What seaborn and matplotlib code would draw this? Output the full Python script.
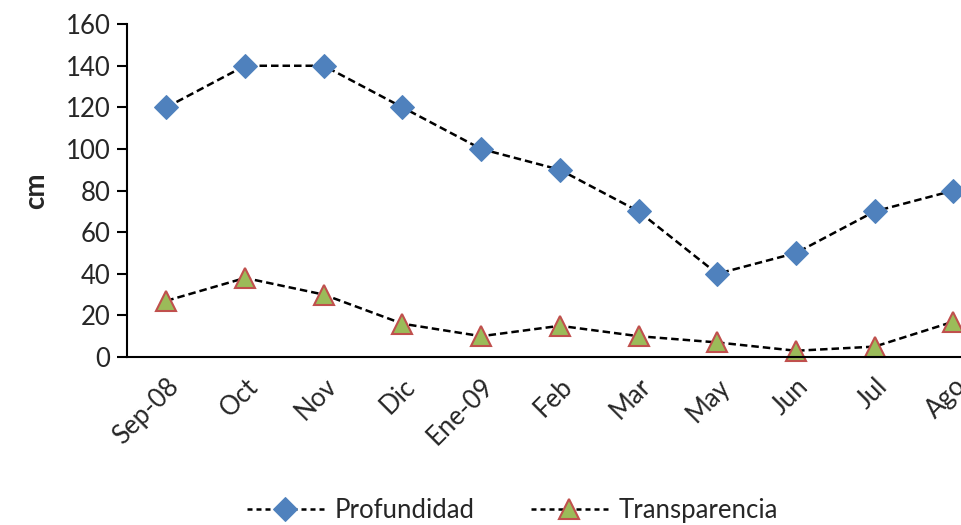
import matplotlib
matplotlib.use("Agg")
import matplotlib.pyplot as plt
import seaborn as sns
import numpy as np
import pandas as pd

months = ["Sep-08", "Oct", "Nov", "Dic", "Ene-09", "Feb", "Mar", "May", "Jun", "Jul", "Ago"]
profundidad = [120, 140, 140, 120, 100, 90, 70, 40, 50, 70, 80]
transparencia = [27, 38, 30, 16, 10, 15, 10, 7, 3, 5, 17]
y_ticks = [0, 20, 40, 60, 80, 100, 120, 140, 160]

sns.set_style("white")
plt.rcParams["font.family"] = ["Lato", "DejaVu Sans"]

fig = plt.figure(figsize=(9.62, 5.25), dpi=100)
ax = fig.add_axes([0.132, 0.32, 0.9, 0.634])

pos = np.arange(len(months))
df = pd.DataFrame({"pos": pos, "Profundidad": profundidad, "Transparencia": transparencia})

dash = (3.0, 1.6)
sns.lineplot(data=df, x="pos", y="Profundidad", ax=ax, color="black", dashes=False,
             linewidth=1.8, marker="D", markersize=12, markerfacecolor="#4F81BD",
             markeredgecolor="#4F81BD", label="Profundidad", clip_on=False)
sns.lineplot(data=df, x="pos", y="Transparencia", ax=ax, color="black", dashes=False,
             linewidth=1.8, marker="^", markersize=15, markerfacecolor="#9BBB59",
             markeredgecolor="#C0504D", markeredgewidth=1.5, label="Transparencia", clip_on=False)
for line in ax.get_lines():
    line.set_linestyle((0, dash))

ax.set_xlim(-0.5, len(months) - 0.5)
ax.set_ylim(0, 160)
ax.set_yticks(y_ticks)
ax.set_yticklabels([str(v) for v in y_ticks], fontsize=18.5)
ax.set_xticks(pos)
ax.set_xticklabels(months, fontsize=18.5, rotation=45, ha="right", rotation_mode="anchor")
ax.set_xticks(np.arange(-0.5, len(months) + 0.5, 1), minor=True)
ax.tick_params(axis="x", which="major", length=0, pad=12)
ax.tick_params(axis="x", which="minor", length=7, width=1.5, direction="out", color="black")
ax.tick_params(axis="y", length=7, width=1.5, direction="out", color="black", left=True, pad=5)

ax.set_xlabel("")
ax.set_ylabel("cm", fontsize=20, fontweight="bold", labelpad=12)

for side in ["top", "right"]:
    ax.spines[side].set_visible(False)
for side in ["left", "bottom"]:
    ax.spines[side].set_color("black")
    ax.spines[side].set_linewidth(1.5)

leg = ax.legend(loc="upper center", bbox_to_anchor=(0.445, -0.355), ncol=2, frameon=False,
                fontsize=18.5, handlelength=3.0, columnspacing=2.2, handletextpad=0.4)
for h in leg.get_lines():
    h.set_linestyle((0, (2.0, 1.6)))

fig.savefig("out.png", dpi=100)
